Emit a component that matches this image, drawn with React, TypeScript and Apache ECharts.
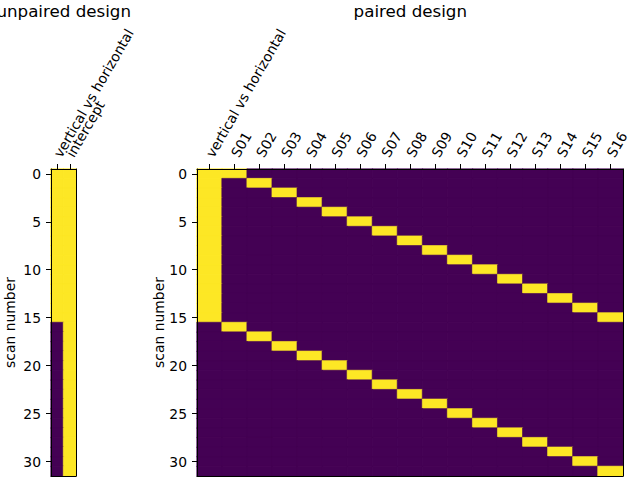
import React, { useEffect, useRef } from "react";
import * as echarts from "echarts";

// ---- data ----
const unpairedColumns = ["vertical vs horizontal", "intercept"];
const pairedColumns = [
  "vertical vs horizontal",
  "S01", "S02", "S03", "S04", "S05", "S06", "S07", "S08",
  "S09", "S10", "S11", "S12", "S13", "S14", "S15", "S16",
];
const scanNumbers = [
  "0", "1", "2", "3", "4", "5", "6", "7", "8", "9", "10", "11", "12", "13", "14", "15",
  "16", "17", "18", "19", "20", "21", "22", "23", "24", "25", "26", "27", "28", "29", "30", "31",
];
// condition regressor per scan (1 = vertical, 0 = horizontal)
const conditionRegressor = [
  1, 1, 1, 1, 1, 1, 1, 1, 1, 1, 1, 1, 1, 1, 1, 1,
  0, 0, 0, 0, 0, 0, 0, 0, 0, 0, 0, 0, 0, 0, 0, 0,
];
// intercept per scan
const interceptRegressor = [
  1, 1, 1, 1, 1, 1, 1, 1, 1, 1, 1, 1, 1, 1, 1, 1,
  1, 1, 1, 1, 1, 1, 1, 1, 1, 1, 1, 1, 1, 1, 1, 1,
];
// subject of each scan
const scanSubject = [
  "S01", "S02", "S03", "S04", "S05", "S06", "S07", "S08",
  "S09", "S10", "S11", "S12", "S13", "S14", "S15", "S16",
  "S01", "S02", "S03", "S04", "S05", "S06", "S07", "S08",
  "S09", "S10", "S11", "S12", "S13", "S14", "S15", "S16",
];

const FONT = "DejaVu Sans";
const FS = 13.9;
const LOW = "#440154";
const HIGH = "#fde725";

export default function App() {
  const ref = useRef<HTMLDivElement>(null);
  useEffect(() => {
    if (!ref.current) return;
    const chart = echarts.init(ref.current, null, { renderer: "svg" });

    const cell = (x: number, y: number, v: number) => ({
      value: [x, y, v],
      itemStyle: { borderColor: v > 0.5 ? HIGH : LOW, borderWidth: 0.6 },
    });

    const unpairedData: any[] = [];
    scanNumbers.forEach((_, r) => {
      unpairedData.push(cell(0, r, conditionRegressor[r]));
      unpairedData.push(cell(1, r, interceptRegressor[r]));
    });
    const pairedData: any[] = [];
    scanNumbers.forEach((_, r) => {
      pairedData.push(cell(0, r, conditionRegressor[r]));
      pairedColumns.slice(1).forEach((s, c) => {
        pairedData.push(cell(c + 1, r, scanSubject[r] === s ? 1 : 0));
      });
    });

    const textBase = { fontFamily: FONT, fontSize: FS, color: "#000" };

    const topX = (gridIndex: number, data: string[]) => ({
      gridIndex,
      type: "category",
      data,
      position: "top",
      z: 10,
      axisLine: { show: true, lineStyle: { color: "#000", width: 1 } },
      axisTick: { show: true, alignWithLabel: true, length: 5, lineStyle: { color: "#000" } },
      axisLabel: {
        ...textBase,
        rotate: -60,
        interval: 0,
        margin: 13,
        padding: [6, 0, 0, 0],
        hideOverlap: false,
      },
      splitLine: { show: false },
    });
    const bottomX = (gridIndex: number, data: string[]) => ({
      gridIndex,
      type: "category",
      data,
      position: "bottom",
      z: 10,
      axisLine: { show: true, lineStyle: { color: "#000", width: 1 } },
      axisTick: { show: false },
      axisLabel: { show: false },
      splitLine: { show: false },
    });
    const leftY = (gridIndex: number, nameGap: number) => ({
      gridIndex,
      type: "category",
      data: scanNumbers,
      inverse: true,
      position: "left",
      z: 10,
      name: "scan number",
      nameLocation: "middle",
      nameGap,
      nameMoveOverlap: false,
      nameTextStyle: { ...textBase },
      axisLine: { show: true, lineStyle: { color: "#000", width: 1 } },
      axisTick: { show: true, alignWithLabel: true, interval: 4, length: 5, lineStyle: { color: "#000" } },
      axisLabel: { ...textBase, interval: 4, margin: 10 },
      splitLine: { show: false },
    });
    const rightY = (gridIndex: number) => ({
      gridIndex,
      type: "category",
      data: scanNumbers,
      inverse: true,
      position: "right",
      z: 10,
      axisLine: { show: true, lineStyle: { color: "#000", width: 1 } },
      axisTick: { show: false },
      axisLabel: { show: false },
      splitLine: { show: false },
    });

    chart.setOption({
      animation: false,
      backgroundColor: "#fff",
      title: [
        {
          text: "unpaired design",
          left: 63.7,
          top: 2,
          padding: 0,
          textAlign: "center",
          textStyle: { fontFamily: FONT, fontSize: 16.7, fontWeight: "normal", color: "#000" },
        },
        {
          text: "paired design",
          left: 410.3,
          top: 2,
          padding: 0,
          textAlign: "center",
          textStyle: { fontFamily: FONT, fontSize: 16.7, fontWeight: "normal", color: "#000" },
        },
      ],
      grid: [
        { left: 51, top: 169, width: 25, height: 307, containLabel: false, outerBoundsMode: "none" },
        { left: 197, top: 169, width: 426, height: 307, containLabel: false, outerBoundsMode: "none" },
      ],
      xAxis: [
        topX(0, unpairedColumns),
        bottomX(0, unpairedColumns),
        topX(1, pairedColumns),
        bottomX(1, pairedColumns),
      ],
      yAxis: [leftY(0, 34), rightY(0), leftY(1, 31), rightY(1)],
      visualMap: {
        type: "piecewise",
        show: false,
        dimension: 2,
        seriesIndex: [0, 1],
        pieces: [
          { lte: 0.5, color: LOW },
          { gt: 0.5, color: HIGH },
        ],
      },
      series: [
        {
          type: "heatmap",
          xAxisIndex: 0,
          yAxisIndex: 0,
          data: unpairedData,
          emphasis: { disabled: true },
        },
        {
          type: "heatmap",
          xAxisIndex: 2,
          yAxisIndex: 2,
          data: pairedData,
          emphasis: { disabled: true },
        },
      ],
    });
    return () => chart.dispose();
  }, []);
  return (
    <div
      ref={ref}
      style={{ position: "fixed", left: 0, top: 0, width: 640, height: 480 }}
    />
  );
}
